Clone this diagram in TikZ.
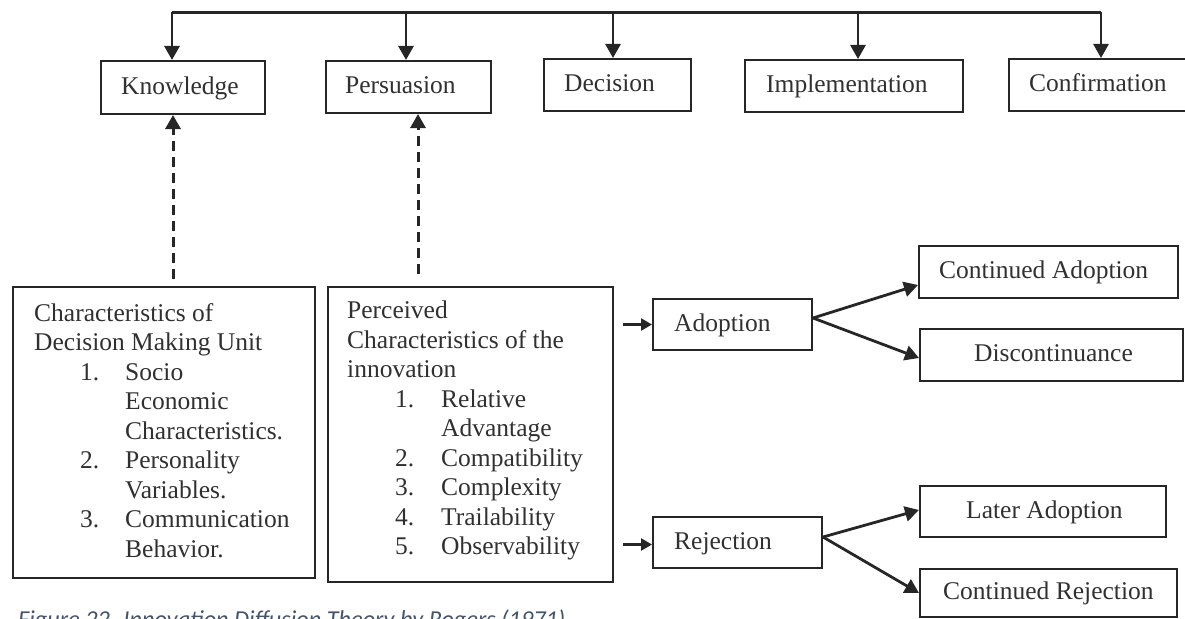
\documentclass[tikz,border=0pt]{standalone}
\usepackage{fontspec}
\setmainfont{Liberation Serif}
\newfontfamily\capfont{Carlito}
\usetikzlibrary{arrows.meta,calc}
\definecolor{ink}{HTML}{262626}
\definecolor{txt}{HTML}{303030}
\definecolor{capblue}{HTML}{44546A}

\begin{document}
\begin{tikzpicture}[x=1pt,y=-1pt,
  box/.style={draw=ink, line width=2pt, rectangle, inner sep=0pt},
  lbl/.style={text=txt, inner sep=0pt, anchor=west,
    font=\fontsize{25.5}{29.5}\selectfont, text height=18pt, text depth=5pt},
  para/.style={text=txt, inner sep=0pt, anchor=west, align=left,
    font=\fontsize{25.5}{29.5}\selectfont},
  arr/.style={draw=ink, line width=2.8pt, -{Triangle[length=14pt,width=15pt]}},
  smallarr/.style={draw=ink, line width=2.4pt, -{Triangle[length=11pt,width=12pt]}},
  dasharr/.style={draw=ink, line width=3pt, dash pattern=on 10pt off 6pt,
    -{Triangle[length=14pt,width=15pt]}},
  bus/.style={draw=ink, line width=2.6pt}
]
\useasboundingbox (0,0) rectangle (1185,618);
\clip (0,0) rectangle (1185,618);

% stage boxes
\node[box, minimum width=164pt, minimum height=53pt] (know) at (183,87.5) {};
\node[box, minimum width=165pt, minimum height=52pt] (pers) at (408.5,87) {};
\node[box, minimum width=147pt, minimum height=52pt] (deci) at (617.5,85) {};
\node[box, minimum width=218pt, minimum height=52pt] (impl) at (854,86) {};
\node[box, minimum width=183pt, minimum height=52pt] (conf) at (1100.5,85) {};
\node[lbl] (knowT) at ([xshift=21pt]know.west) {Knowledge};
\node[lbl] (persT) at ([xshift=20pt]pers.west) {Persuasion};
\node[lbl] (deciT) at ([xshift=21pt]deci.west) {Decision};
\node[lbl] (implT) at ([xshift=22pt]impl.west) {Implementation};
\node[lbl] (confT) at ([xshift=21pt]conf.west) {Confirmation};

% bus feeding every stage
\coordinate (busy) at (0,12.5);
\draw[bus] ([xshift=-11pt]know.north |- busy) -- ([xshift=0.5pt]conf.north |- busy);
\draw[arr] ([xshift=-11pt]know.north |- busy) -- ([xshift=-11pt]know.north);
\draw[arr] ([xshift=-2.5pt]pers.north |- busy) -- ([xshift=-2.5pt]pers.north);
\draw[arr] ([xshift=-4.5pt]deci.north |- busy) -- ([xshift=-4.5pt]deci.north);
\draw[arr] ([xshift=4pt]impl.north |- busy) -- ([xshift=4pt]impl.north);
\draw[arr] ([xshift=0.5pt]conf.north |- busy) -- ([xshift=0.5pt]conf.north);

% characteristic boxes
\node[box, minimum width=302pt, minimum height=291pt] (dmu) at (164,432.5) {};
\node[box, minimum width=285pt, minimum height=295pt] (pcv) at (470.5,434.5) {};
\node[para] (dmuT) at ([xshift=22pt,yshift=2pt]dmu.west) {Characteristics of\\
Decision Making Unit\\
\hspace*{46pt}\makebox[45pt][l]{1.}Socio\\
\hspace*{91pt}Economic\\
\hspace*{91pt}Characteristics.\\
\hspace*{46pt}\makebox[45pt][l]{2.}Personality\\
\hspace*{91pt}Variables.\\
\hspace*{46pt}\makebox[45pt][l]{3.}Communication\\
\hspace*{91pt}Behavior.};
\node[para] (pcvT) at ([xshift=20pt,yshift=4pt]pcv.west) {Perceived\\
Characteristics of the\\
innovation\\
\hspace*{48pt}\makebox[46pt][l]{1.}Relative\\
\hspace*{94pt}Advantage\\
\hspace*{48pt}\makebox[46pt][l]{2.}Compatibility\\
\hspace*{48pt}\makebox[46pt][l]{3.}Complexity\\
\hspace*{48pt}\makebox[46pt][l]{4.}Trailability\\
\hspace*{48pt}\makebox[46pt][l]{5.}Observability};

% dashed links up to the first two stages
\draw[dasharr, shorten <=7pt] ([xshift=-10pt]know.south |- dmu.north) -- ([xshift=-10pt]know.south);
\draw[dasharr, shorten <=12pt] ([xshift=9.5pt]pers.south |- pcv.north) -- ([xshift=9.5pt]pers.south);

% outcome boxes
\node[box, minimum width=159pt, minimum height=51pt] (adopt) at (732.5,324.5) {};
\node[box, minimum width=169pt, minimum height=51pt] (rej) at (737.5,542.5) {};
\node[box, minimum width=259pt, minimum height=52pt] (cadopt) at (1048.5,272) {};
\node[box, minimum width=263pt, minimum height=52pt] (disc) at (1051.5,355) {};
\node[box, minimum width=246pt, minimum height=51pt] (later) at (1043,511.5) {};
\node[box, minimum width=257pt, minimum height=48pt] (crej) at (1048.5,593) {};
\node[lbl] (adoptT) at ([xshift=22pt]adopt.west) {Adoption};
\node[lbl] (rejT) at ([xshift=22pt]rej.west) {Rejection};
\node[lbl] (cadoptT) at ([xshift=21pt]cadopt.west) {Continued Adoption};
\node[lbl] (discT) at ([xshift=55pt]disc.west) {Discontinuance};
\node[lbl] (laterT) at ([xshift=47pt]later.west) {Later Adoption};
\node[lbl] (crejT) at ([xshift=24pt]crej.west) {Continued Rejection};

% entry arrows and branches
\draw[smallarr] ([xshift=-29pt]adopt.west) -- (adopt.west);
\draw[smallarr] ([xshift=-29pt,yshift=-2pt]rej.west) -- ([yshift=-2pt]rej.west);
\draw[arr] ([yshift=6.5pt]adopt.east) -- ([yshift=-13pt]cadopt.west);
\draw[arr] ([yshift=6.5pt]adopt.east) -- ([yshift=-3pt]disc.west);
\draw[arr] ([yshift=5.5pt]rej.east) -- ([yshift=1.5pt]later.west);
\draw[arr] ([yshift=5.5pt]rej.east) -- (crej.west);

% caption
\node[anchor=base west, inner sep=0pt, text=capblue,
  font=\capfont\itshape\fontsize{24.3}{28}\selectfont] (cap) at (18,627)
  {Figure 22. Innovation Diffusion Theory by Rogers (1971)};
\end{tikzpicture}
\end{document}
